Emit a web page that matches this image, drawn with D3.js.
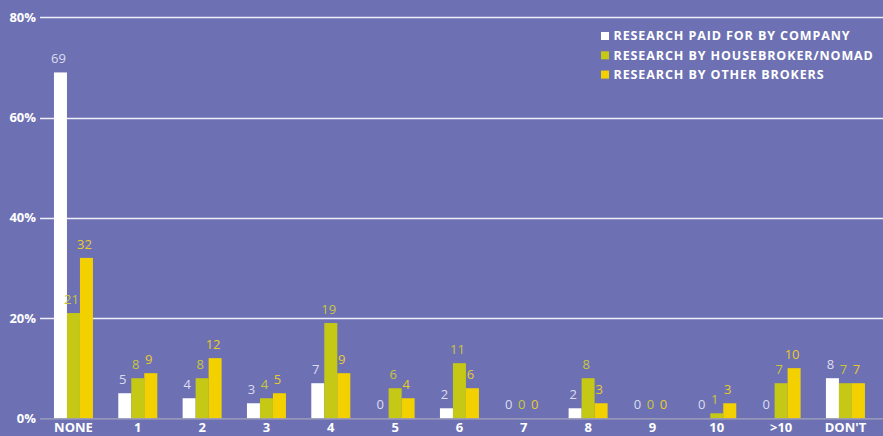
<!DOCTYPE html>
<html>
<head>
<meta charset="utf-8">
<script src="https://cdn.jsdelivr.net/npm/d3@7"></script>
<style>
  html, body { margin: 0; padding: 0; background: #6d71b3; }
  svg { display: block; }
  text { font-family: "Open Sans", "Noto Sans", sans-serif; }
</style>
</head>
<body>
<svg id="chart" width="883" height="436"></svg>
<script>
// Number of research notes per company, share of respondents (%)
const categories = ["NONE", "1", "2", "3", "4", "5", "6", "7", "8", "9", "10", ">10", "DON'T"];
const paidByCompany = [69, 5, 4, 3, 7, 0, 2, 0, 2, 0, 0, 0, 8];
const houseBroker   = [21, 8, 8, 4, 19, 6, 11, 0, 8, 0, 1, 7, 7];
const otherBrokers  = [32, 9, 12, 5, 9, 4, 6, 0, 3, 0, 3, 10, 7];
const yTicks = [0, 20, 40, 60, 80];

const seriesNames = ["RESEARCH PAID FOR BY COMPANY", "RESEARCH BY HOUSEBROKER/NOMAD", "RESEARCH BY OTHER BROKERS"];
const seriesValues = [paidByCompany, houseBroker, otherBrokers];
const barColors = ["#ffffff", "#c5c815", "#f3d100"];
const labelColors = ["#dcdcf0", "#c9c63a", "#e9cb2a"];

const W = 883, H = 436;
const svg = d3.select("#chart");

const x = d3.scaleBand().domain(categories).range([41.3, 877.6]).paddingInner(0).paddingOuter(0);
const xs = d3.scaleBand().domain(d3.range(seriesNames.length)).range([0, 39]);
const y = d3.scaleLinear().domain([0, 80]).range([418.3, 17.3]);

// horizontal gridlines
svg.append("g").selectAll("line")
  .data(yTicks.filter(d => d > 0))
  .join("line")
  .attr("x1", 40).attr("x2", W)
  .attr("y1", d => Math.round(y(d)) + 0.5).attr("y2", d => Math.round(y(d)) + 0.5)
  .attr("stroke", "#eeeef8").attr("stroke-width", 1.3);

// y-axis labels
svg.append("g").selectAll("text")
  .data(yTicks)
  .join("text")
  .attr("x", 36).attr("y", d => y(d))
  .attr("dy", "0.35em")
  .attr("text-anchor", "end")
  .attr("fill", "#ffffff")
  .attr("font-weight", 700)
  .attr("font-size", 13)
  .text(d => d + "%");

// bars
const groups = svg.append("g").selectAll("g")
  .data(categories)
  .join("g")
  .attr("transform", c => `translate(${x(c) + (x.bandwidth() - 39) / 2},0)`);

groups.selectAll("rect")
  .data((c, i) => seriesValues.map((vals, s) => ({ s, v: vals[i] })))
  .join("rect")
  .attr("x", d => xs(d.s))
  .attr("width", xs.bandwidth())
  .attr("y", d => y(d.v))
  .attr("height", d => y(0) - y(d.v))
  .attr("fill", d => barColors[d.s]);

// value labels
groups.selectAll("text")
  .data((c, i) => seriesValues.map((vals, s) => ({ s, v: vals[i] })))
  .join("text")
  .attr("x", d => xs(d.s) + xs.bandwidth() / 2 - 2)
  .attr("y", d => y(d.v) - 9)
  .attr("text-anchor", "middle")
  .attr("fill", d => labelColors[d.s])
  .attr("font-size", 13)
  .text(d => d.v);

// baseline
svg.append("line")
  .attr("x1", 40).attr("x2", W)
  .attr("y1", y(0) + 0.5).attr("y2", y(0) + 0.5)
  .attr("stroke", "#a3a3bd").attr("stroke-width", 1.3);

// x-axis labels
const xAxis = d3.axisBottom(x).tickSize(0).tickPadding(0);
const gx = svg.append("g")
  .attr("transform", `translate(0,${y(0)})`)
  .call(xAxis);
gx.select(".domain").remove();
gx.selectAll("text")
  .attr("y", 13.5)
  .attr("dy", 0)
  .attr("fill", "#ffffff")
  .attr("font-weight", 700)
  .attr("font-size", 13)
  .attr("font-family", "'Open Sans', sans-serif");

// legend
const legend = svg.append("g").attr("transform", "translate(601,36)");
const items = legend.selectAll("g")
  .data(seriesNames)
  .join("g")
  .attr("transform", (d, i) => `translate(0,${i * 19.3})`);
items.append("rect")
  .attr("x", 0).attr("y", -4).attr("width", 8).attr("height", 8)
  .attr("fill", (d, i) => barColors[i]);
items.append("text")
  .attr("x", 12.5).attr("y", 0)
  .attr("dy", "0.35em")
  .attr("fill", "#ffffff")
  .attr("font-weight", 700)
  .attr("font-size", 12.5)
  .attr("letter-spacing", 0.9)
  .text(d => d);
</script>
</body>
</html>
